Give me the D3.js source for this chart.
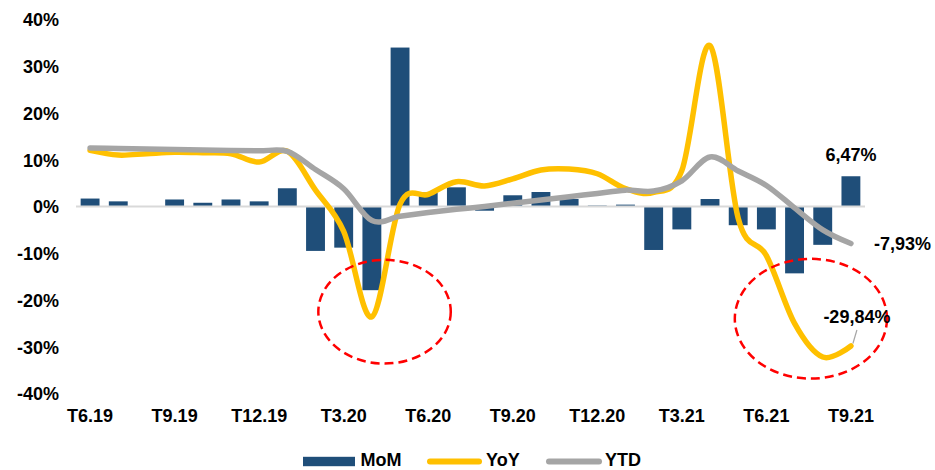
<!DOCTYPE html>
<html>
<head>
<meta charset="utf-8">
<script src="https://cdn.jsdelivr.net/npm/d3@7"></script>
<style>
  html, body { margin: 0; padding: 0; background: #ffffff; }
  svg { display: block; font-family: "Liberation Sans", Arial, sans-serif; font-weight: bold; }
</style>
</head>
<body>
<svg id="chart" width="935" height="470"></svg>
<script>
// Monthly categories, June 2019 to September 2021
const months = [
  "T6.19","T7.19","T8.19","T9.19","T10.19","T11.19","T12.19",
  "T1.20","T2.20","T3.20","T4.20","T5.20","T6.20","T7.20","T8.20","T9.20","T10.20","T11.20","T12.20",
  "T1.21","T2.21","T3.21","T4.21","T5.21","T6.21","T7.21","T8.21","T9.21"
];
const tickLabels = ["T6.19","T9.19","T12.19","T3.20","T6.20","T9.20","T12.20","T3.21","T6.21","T9.21"];
const yTicks = [-40, -30, -20, -10, 0, 10, 20, 30, 40];

// Month-over-month change (%)
const mom = [1.7, 1.1, 0.1, 1.5, 0.8, 1.5, 1.1, 3.9, -9.5, -8.8, -17.9, 34.0, 3.0, 4.1,
             -0.9, 2.4, 3.1, 1.6, 0.2, 0.4, -9.3, -4.9, 1.6, -4.0, -4.9, -14.3, -8.2, 6.47];
// Year-over-year change (%)
const yoy = [12.0, 11.0, 11.3, 11.6, 11.5, 11.3, 9.5, 11.8, 3.5, -5.3, -23.6, 0.5, 2.6, 5.3,
             4.4, 5.9, 7.8, 8.0, 7.0, 3.8, 3.0, 7.7, 34.4, -2.5, -10.5, -25.0, -32.2, -29.84];
// Year-to-date change (%)
const ytd = [12.5, 12.4, 12.3, 12.2, 12.1, 12.0, 11.9, 11.8, 7.9, 3.8, -3.0, -2.1, -1.3, -0.6,
             0.0, 0.7, 1.4, 2.1, 2.8, 3.5, 3.3, 5.5, 10.6, 7.6, 4.5, -0.3, -5.0, -7.93];

// Highlight rings: centre (month index, %) and radii (months, %)
const rings = [
  { at: 10.45, value: -22.5, rx: 2.35, ry: 11.1 },
  { at: 25.58, value: -24.0, rx: 2.70, ry: 12.8 }
];

const colors = { mom: "#1F4E79", yoy: "#FFC000", ytd: "#A5A5A5" };

const svg = d3.select("#chart");
const plotLeft = 76, plotRight = 865, plotTop = 19.5, plotBottom = 393.5;

const x = d3.scaleBand().domain(months).range([plotLeft, plotRight])
  .paddingInner(0.33).paddingOuter(0.165);
const y = d3.scaleLinear().domain([-40, 40]).range([plotBottom, plotTop]);
const cx = m => x(m) + x.bandwidth() / 2;
const xi = d3.scaleLinear().domain([0, months.length - 1])
  .range([cx(months[0]), cx(months[months.length - 1])]);

// Comma decimals and a plain hyphen for negatives
const pct = d3.formatLocale({ decimal: ",", thousands: ".", grouping: [3], currency: ["", ""], minus: "-" });
const fmtLabel = v => pct.format(".2f")(v) + "%";

// Y axis labels
const yAxis = d3.axisLeft(y).tickValues(yTicks).tickSize(0).tickPadding(17)
  .tickFormat(d => d + "%");
const gy = svg.append("g").attr("transform", `translate(${plotLeft},0)`).call(yAxis);
gy.select(".domain").remove();
gy.selectAll("text").attr("font-size", 18).attr("fill", "#000").attr("dy", "0.36em");
gy.attr("font-family", null).attr("font-size", null);

// X axis labels
const xAxis = d3.axisBottom(x).tickValues(tickLabels).tickSize(0).tickPadding(15.5);
const gx = svg.append("g").attr("transform", `translate(0,${plotBottom})`).call(xAxis);
gx.select(".domain").remove();
gx.selectAll("text").attr("font-size", 18).attr("fill", "#000");
gx.attr("font-family", null).attr("font-size", null);

// Bars
svg.append("g").selectAll("rect").data(mom).join("rect")
  .attr("x", (d, i) => x(months[i]))
  .attr("width", x.bandwidth())
  .attr("y", d => Math.min(y(d), y(0)))
  .attr("height", d => Math.abs(y(d) - y(0)))
  .attr("fill", colors.mom);

// Zero line
svg.append("line")
  .attr("x1", plotLeft).attr("x2", plotRight)
  .attr("y1", y(0)).attr("y2", y(0))
  .attr("stroke", "#D9D9D9").attr("stroke-width", 2);

// Smoothed lines
const line = d3.line().x((d, i) => cx(months[i])).y(d => y(d)).curve(d3.curveCardinal.tension(0));
svg.append("path").datum(yoy).attr("d", line)
  .attr("fill", "none").attr("stroke", colors.yoy).attr("stroke-width", 5.5)
  .attr("stroke-linecap", "round").attr("stroke-linejoin", "round");
svg.append("path").datum(ytd).attr("d", line)
  .attr("fill", "none").attr("stroke", colors.ytd).attr("stroke-width", 5.5)
  .attr("stroke-linecap", "round").attr("stroke-linejoin", "round");

// Dashed highlight rings
svg.append("g").selectAll("ellipse").data(rings).join("ellipse")
  .attr("cx", d => xi(d.at))
  .attr("cy", d => y(d.value))
  .attr("rx", d => d.rx * x.step())
  .attr("ry", d => y(0) - y(d.ry))
  .attr("fill", "none").attr("stroke", "#FF0000").attr("stroke-width", 2.5)
  .attr("stroke-dasharray", "9,5");

// End-point value labels
const last = months.length - 1;
const lx = cx(months[last]);
svg.append("text").attr("x", lx).attr("y", y(mom[last]) - 15)
  .attr("text-anchor", "middle").attr("font-size", 18).text(fmtLabel(mom[last]));
svg.append("text").attr("x", lx + 23).attr("y", y(ytd[last]) + 6.6)
  .attr("font-size", 18).text(fmtLabel(ytd[last]));
svg.append("line")
  .attr("x1", lx + 2).attr("y1", y(yoy[last]) - 2.5)
  .attr("x2", lx + 6).attr("y2", y(yoy[last]) - 16)
  .attr("stroke", "#A5A5A5").attr("stroke-width", 1.2);
svg.append("text").attr("x", lx + 6).attr("y", y(yoy[last]) - 23)
  .attr("text-anchor", "middle").attr("font-size", 18).text(fmtLabel(yoy[last]));

// Legend
const legendY = 461.5;
const legend = svg.append("g").attr("font-size", 18);
legend.append("rect").attr("x", 303).attr("y", legendY - 4.7).attr("width", 52).attr("height", 9.4).attr("fill", colors.mom);
legend.append("text").attr("x", 360.5).attr("y", legendY + 4.5).text("MoM");
legend.append("line").attr("x1", 430).attr("x2", 479).attr("y1", legendY).attr("y2", legendY)
  .attr("stroke", colors.yoy).attr("stroke-width", 6).attr("stroke-linecap", "round");
legend.append("text").attr("x", 486).attr("y", legendY + 4.5).text("YoY");
legend.append("line").attr("x1", 549).attr("x2", 599).attr("y1", legendY).attr("y2", legendY)
  .attr("stroke", colors.ytd).attr("stroke-width", 6).attr("stroke-linecap", "round");
legend.append("text").attr("x", 605).attr("y", legendY + 4.5).text("YTD");
</script>
</body>
</html>
